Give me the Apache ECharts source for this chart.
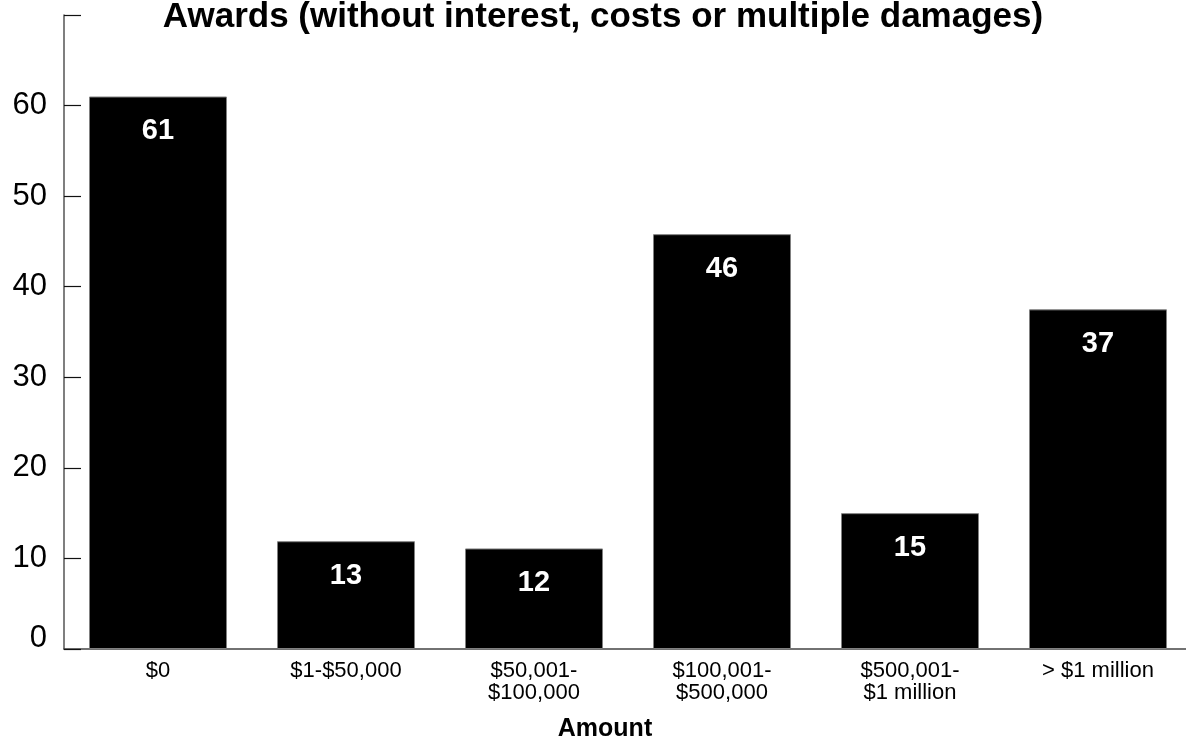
<!DOCTYPE html>
<html>
<head>
<meta charset="utf-8">
<script src="https://cdn.jsdelivr.net/npm/echarts@6/dist/echarts.min.js"></script>
<style>
html,body{margin:0;padding:0;background:#fff;overflow:hidden;width:1186px;height:743px;}
#chart{width:1192px;height:743px;}
</style>
</head>
<body>
<div id="chart"></div>
<script>
const categories = ['$0', '$1-$50,000', '$50,001-\n$100,000', '$100,001-\n$500,000', '$500,001-\n$1 million', '> $1 million'];
const barHeights = [61, 11.9, 11.1, 45.8, 15, 37.5];
const valueLabels = ['61', '13', '12', '46', '15', '37'];
const yTicks = [0, 10, 20, 30, 40, 50, 60, 70];
const titleText = 'Awards (without interest, costs or multiple damages)';
const xName = 'Amount';

const FONT = "'Liberation Sans', Arial, Helvetica, sans-serif";
const chart = echarts.init(document.getElementById('chart'));
const option = {
  animation: false,
  backgroundColor: '#ffffff',
  textStyle: { fontFamily: FONT },
  grid: { left: 64, top: 15, right: 0, height: 634 },
  graphic: [
    { type: 'text', x: 603, y: 0, style: { text: titleText, font: 'bold 35px ' + FONT, fill: '#000', textAlign: 'center', textVerticalAlign: 'top' } },
    { type: 'text', x: 605, y: 717, style: { text: xName, font: 'bold 25px ' + FONT, fill: '#000', textAlign: 'center', textVerticalAlign: 'top' } }
  ],
  xAxis: {
    type: 'category',
    data: categories,
    axisLine: { lineStyle: { color: '#444', width: 1.5 } },
    axisTick: { inside: true, length: 20, lineStyle: { color: '#333', width: 1.2 } },
    axisLabel: { color: '#000', fontSize: 22, lineHeight: 22, margin: 11, fontFamily: FONT, interval: 0 }
  },
  yAxis: {
    type: 'value',
    min: yTicks[0],
    max: yTicks[yTicks.length - 1],
    interval: 10,
    splitLine: { show: false },
    axisLine: { show: true, lineStyle: { color: '#555', width: 1.5 } },
    axisTick: { show: true, inside: true, length: 17, lineStyle: { color: '#111', width: 1.2 } },
    axisLabel: {
      color: '#000', fontSize: 31, margin: 17, fontFamily: FONT,
      formatter: function (v) { return v === 70 ? '' : (v === 0 ? '{z|0}' : String(v)); },
      rich: { z: { fontSize: 31, fontFamily: FONT, color: '#000', padding: [0, 0, 22, 0] } }
    }
  },
  series: [{
    type: 'bar',
    data: barHeights,
    barWidth: 138,
    itemStyle: { color: '#000', borderColor: '#808080', borderWidth: 1 },
    label: {
      show: true,
      position: 'insideTop',
      distance: 20,
      color: '#fff',
      fontSize: 29,
      fontWeight: 'bold',
      fontFamily: FONT,
      formatter: function (p) { return valueLabels[p.dataIndex]; }
    }
  }]
};
chart.setOption(option);
</script>
</body>
</html>
